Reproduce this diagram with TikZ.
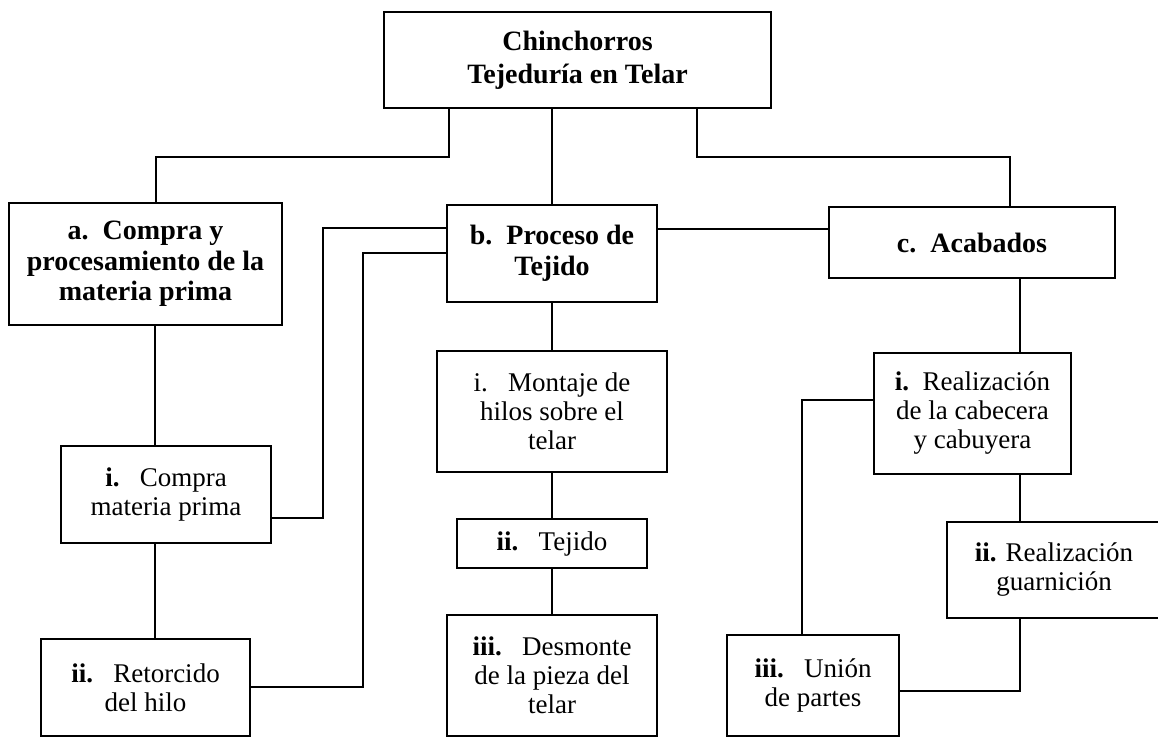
\documentclass[tikz,border=0pt]{standalone}
\usepackage{fontspec}
\setmainfont{Liberation Serif}
\begin{document}
\begin{tikzpicture}[x=1pt,y=-1pt,
  box/.style={draw=black, line width=1.7pt, align=center, inner sep=0pt,
    font=\fontsize{27}{29}\selectfont},
  bbox/.style={box, font=\fontsize{28}{30.5}\selectfont\bfseries},
  conn/.style={draw=black, line width=1.7pt}]
\useasboundingbox[fill=white] (0,0) rectangle (1158,736);
\clip (0,0) rectangle (1158,736);
% boxes
\node[bbox, minimum width=387pt, minimum height=96pt, font=\fontsize{28}{33}\selectfont\bfseries] (top) at (577.5,60) {Chinchorros\\Tejeduría en Telar};
\node[bbox, minimum width=273pt, minimum height=122pt] (a) at (145.5,264) {a.\ \ Compra y\\procesamiento de la\\materia prima};
\node[bbox, minimum width=210pt, minimum height=97pt] (b) at (552,253.5) {b.\ \ Proceso de\\Tejido};
\node[bbox, minimum width=286pt, minimum height=71pt] (c) at (972,242.5) {c.\ \ Acabados};
\node[box, minimum width=210pt, minimum height=97pt] (ai) at (166,494.5) {\textbf{i.}\ \ \ Compra\\materia prima};
\node[box, minimum width=209pt, minimum height=97pt] (aii) at (145.5,687.5) {\textbf{ii.}\ \ \ Retorcido\\del hilo};
\node[box, minimum width=230pt, minimum height=121pt] (bi) at (552,411.5) {i.\ \ \ Montaje de\\hilos sobre el\\telar};
\node[box, minimum width=190pt, minimum height=49pt] (bii) at (552,543.5) {\textbf{ii.}\ \ \ Tejido};
\node[box, minimum width=210pt, minimum height=121pt] (biii) at (552,675.5) {\textbf{iii.}\ \ \ Desmonte\\de la pieza del\\telar};
\node[box, minimum width=197pt, minimum height=121pt] (ci) at (972.5,413.5) {\textbf{i.}\ \ Realización\\de la cabecera\\y cabuyera};
\node[box, minimum width=214pt, minimum height=96pt] (cii) at (1054,570) {\textbf{ii.} Realización\\guarnición};
\node[box, minimum width=172pt, minimum height=101pt] (ciii) at (813,685.5) {\textbf{iii.}\ \ \ Unión\\de partes};
% helper coordinates
\coordinate (t1) at (449,0);
\coordinate (kA) at (156,157);
\coordinate (t3) at (697,0);
\coordinate (kC) at (1010,157);
\coordinate (xa) at (155,0);
\coordinate (yBC) at (0,229);
\coordinate (k1) at (323,228);
\coordinate (k1b) at (323,518);
\coordinate (k2) at (363,253);
\coordinate (k2b) at (363,687);
\coordinate (xc) at (1020,0);
\coordinate (k3) at (1020,691);
\coordinate (k4) at (802,400);
% connectors
\draw[conn] (top.south -| t1) |- (kA) -- (kA |- a.north);
\draw[conn] (top.south -| b.north) -- (b.north);
\draw[conn] (top.south -| t3) |- (kC) -- (kC |- c.north);
\draw[conn] (b.east |- yBC) -- (c.west |- yBC);
\draw[conn] (b.west |- k1) -- (k1) -- (k1b) -- (ai.east |- k1b);
\draw[conn] (b.west |- k2) -- (k2) -- (k2b) -- (aii.east |- k2b);
\draw[conn] (a.south -| xa) -- (ai.north -| xa);
\draw[conn] (ai.south -| xa) -- (aii.north -| xa);
\draw[conn] (b.south) -- (bi.north);
\draw[conn] (bi.south) -- (bii.north);
\draw[conn] (bii.south) -- (biii.north);
\draw[conn] (c.south -| xc) -- (ci.north -| xc);
\draw[conn] (ci.south -| xc) -- (cii.north -| xc);
\draw[conn] (cii.south -| xc) -- (k3) -- (ciii.east |- k3);
\draw[conn] (ci.west |- k4) -- (k4) -- (k4 |- ciii.north);
\end{tikzpicture}
\end{document}
